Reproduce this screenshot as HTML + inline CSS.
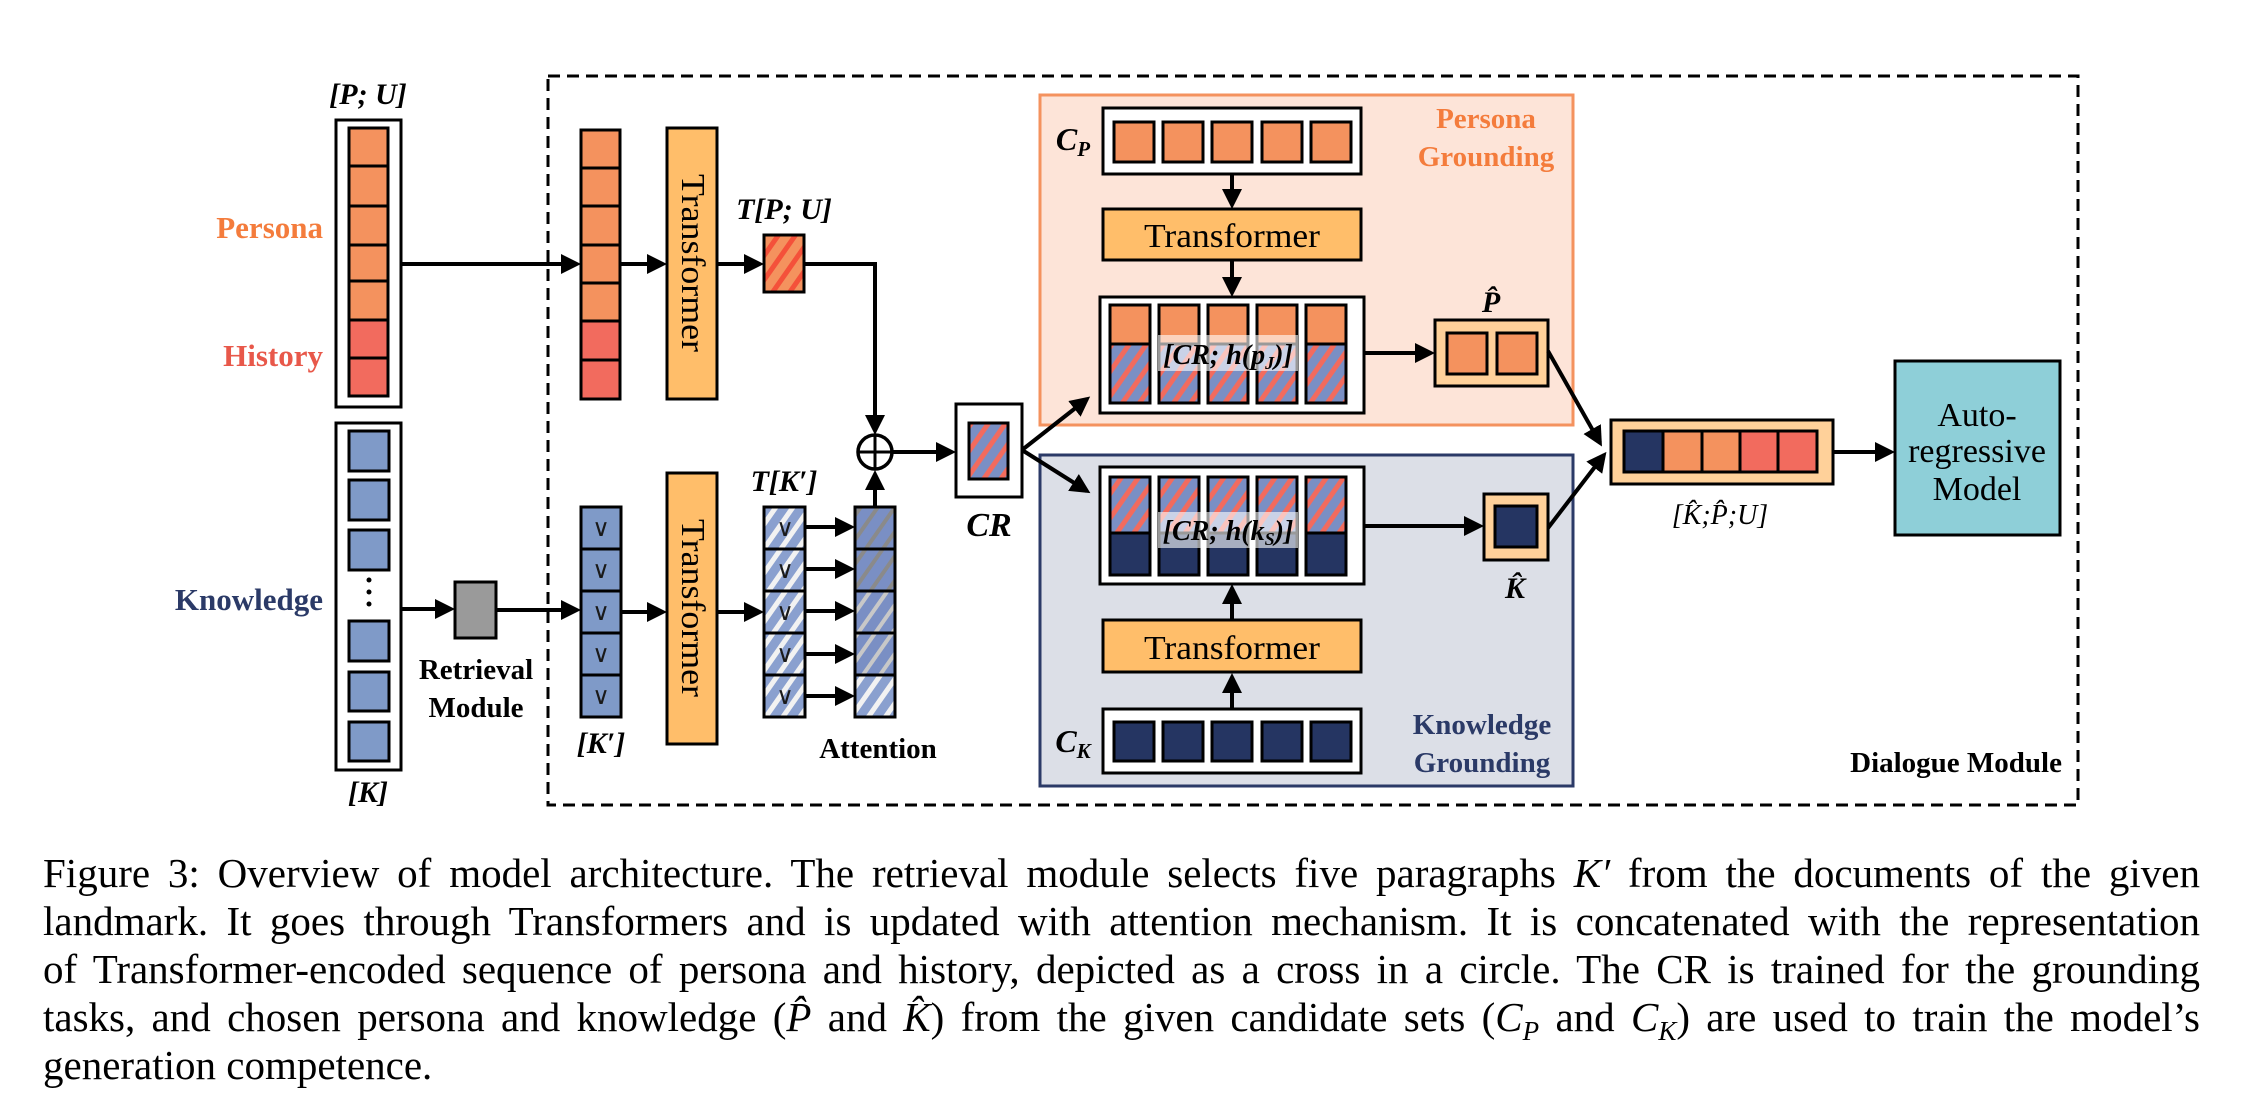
<!DOCTYPE html>
<html><head><meta charset="utf-8"><style>
html,body{margin:0;padding:0;background:#fff;}
body{width:2258px;height:1118px;position:relative;overflow:hidden;}
svg{position:absolute;left:0;top:0;}
.cap{position:absolute;left:43px;width:2157px;font-family:"Liberation Serif",serif;font-size:41px;line-height:48px;color:#000;white-space:nowrap;}
.j{text-align:justify;text-align-last:justify;}
</style></head><body>
<svg width="2258" height="1118" viewBox="0 0 2258 1118" xmlns="http://www.w3.org/2000/svg" font-family="Liberation Serif, serif">
<defs>
<marker id="ah" markerWidth="5" markerHeight="5" refX="4" refY="2.5" orient="auto" markerUnits="strokeWidth"><path d="M0,0 L5,2.5 L0,5 z" fill="#000"/></marker>
<pattern id="hOR" width="14" height="14" patternUnits="userSpaceOnUse" patternTransform="rotate(35)"><rect width="14" height="14" fill="#F4925E"/><rect width="5" height="14" fill="#F4513A"/></pattern>
<pattern id="hCR" width="14" height="14" patternUnits="userSpaceOnUse" patternTransform="rotate(35)"><rect width="14" height="14" fill="#7A8FC4"/><rect width="5" height="14" fill="#F26B5E"/></pattern>
<pattern id="hKW" width="14" height="14" patternUnits="userSpaceOnUse" patternTransform="rotate(35)"><rect width="14" height="14" fill="#8AA0CF"/><rect width="5" height="14" fill="#F2F2F2"/></pattern>
<pattern id="hKG" width="14" height="14" patternUnits="userSpaceOnUse" patternTransform="rotate(35)"><rect width="14" height="14" fill="#7A8FC4"/><rect width="4" height="14" fill="#8A8A8A"/></pattern>
<pattern id="hKL" width="14" height="14" patternUnits="userSpaceOnUse" patternTransform="rotate(35)"><rect width="14" height="14" fill="#7A8FC4"/><rect width="4" height="14" fill="#C8C8C8"/></pattern>
</defs>

<rect x="548" y="76" width="1530" height="729" fill="none" stroke="#000" stroke-width="3" stroke-dasharray="12,7"/>

<rect x="1040" y="95" width="533" height="330" fill="#FDE4D8" stroke="#F4925E" stroke-width="3"/>
<rect x="1040" y="455" width="533" height="331" fill="#DCDFE7" stroke="#2B3A67" stroke-width="3"/>

<g stroke="#000" stroke-width="3">
<rect x="336" y="120" width="65" height="287" fill="#fff"/>
<rect x="349" y="128" width="39" height="38" fill="#F4925E"/>
<rect x="349" y="166" width="39" height="40" fill="#F4925E"/>
<rect x="349" y="206" width="39" height="39" fill="#F4925E"/>
<rect x="349" y="245" width="39" height="36" fill="#F4925E"/>
<rect x="349" y="281" width="39" height="39" fill="#F4925E"/>
<rect x="349" y="320" width="39" height="38" fill="#F26B5E"/>
<rect x="349" y="358" width="39" height="38" fill="#F26B5E"/>
<rect x="336" y="423" width="65" height="347" fill="#fff"/>
<rect x="349" y="431" width="40" height="40" fill="#7F9AC8"/>
<rect x="349" y="480" width="40" height="40" fill="#7F9AC8"/>
<rect x="349" y="530" width="40" height="40" fill="#7F9AC8"/>
<rect x="349" y="621" width="40" height="40" fill="#7F9AC8"/>
<rect x="349" y="672" width="40" height="39" fill="#7F9AC8"/>
<rect x="349" y="722" width="40" height="39" fill="#7F9AC8"/>
<rect x="581" y="130" width="39" height="38" fill="#F4925E"/>
<rect x="581" y="168" width="39" height="38" fill="#F4925E"/>
<rect x="581" y="206" width="39" height="39" fill="#F4925E"/>
<rect x="581" y="245" width="39" height="38" fill="#F4925E"/>
<rect x="581" y="283" width="39" height="38" fill="#F4925E"/>
<rect x="581" y="321" width="39" height="39" fill="#F26B5E"/>
<rect x="581" y="360" width="39" height="39" fill="#F26B5E"/>
<rect x="667" y="128" width="50" height="271" fill="#FFBE6A"/>
<rect x="667" y="473" width="50" height="271" fill="#FFBE6A"/>
<rect x="764" y="235" width="40" height="57" fill="url(#hOR)"/>
<rect x="455" y="582" width="41" height="56" fill="#9A9A9A"/>
<rect x="581" y="507" width="40" height="42" fill="#7F9AC8"/>
<rect x="581" y="549" width="40" height="42" fill="#7F9AC8"/>
<rect x="581" y="591" width="40" height="42" fill="#7F9AC8"/>
<rect x="581" y="633" width="40" height="42" fill="#7F9AC8"/>
<rect x="581" y="675" width="40" height="42" fill="#7F9AC8"/>
<rect x="764" y="507" width="41" height="42" fill="url(#hKW)"/>
<rect x="764" y="549" width="41" height="42" fill="url(#hKW)"/>
<rect x="764" y="591" width="41" height="42" fill="url(#hKW)"/>
<rect x="764" y="633" width="41" height="42" fill="url(#hKW)"/>
<rect x="764" y="675" width="41" height="42" fill="url(#hKW)"/>
<rect x="855" y="507" width="40" height="42" fill="url(#hKG)"/>
<rect x="855" y="549" width="40" height="42" fill="url(#hKG)"/>
<rect x="855" y="591" width="40" height="42" fill="url(#hKL)"/>
<rect x="855" y="633" width="40" height="42" fill="url(#hKL)"/>
<rect x="855" y="675" width="40" height="42" fill="url(#hKW)"/>
<rect x="956" y="404" width="66" height="93" fill="#fff"/>
<rect x="969" y="423" width="39" height="56" fill="url(#hCR)"/>
<rect x="1103" y="108" width="258" height="66" fill="#fff"/>
<rect x="1114" y="122" width="40" height="40" fill="#F4925E"/>
<rect x="1163" y="122" width="40" height="40" fill="#F4925E"/>
<rect x="1212" y="122" width="40" height="40" fill="#F4925E"/>
<rect x="1262" y="122" width="40" height="40" fill="#F4925E"/>
<rect x="1311" y="122" width="40" height="40" fill="#F4925E"/>
<rect x="1103" y="209" width="258" height="51" fill="#FFBE6A"/>
<rect x="1100" y="297" width="264" height="116" fill="#fff"/>
<rect x="1110" y="305" width="40" height="39" fill="#F4925E"/><rect x="1110" y="344" width="40" height="59" fill="url(#hCR)"/>
<rect x="1159" y="305" width="40" height="39" fill="#F4925E"/><rect x="1159" y="344" width="40" height="59" fill="url(#hCR)"/>
<rect x="1208" y="305" width="40" height="39" fill="#F4925E"/><rect x="1208" y="344" width="40" height="59" fill="url(#hCR)"/>
<rect x="1257" y="305" width="40" height="39" fill="#F4925E"/><rect x="1257" y="344" width="40" height="59" fill="url(#hCR)"/>
<rect x="1306" y="305" width="40" height="39" fill="#F4925E"/><rect x="1306" y="344" width="40" height="59" fill="url(#hCR)"/>
<rect x="1435" y="320" width="113" height="66" fill="#FFD19A"/>
<rect x="1447" y="333" width="40" height="41" fill="#F4925E"/>
<rect x="1497" y="333" width="40" height="41" fill="#F4925E"/>
<rect x="1100" y="467" width="264" height="117" fill="#fff"/>
<rect x="1110" y="477" width="40" height="56" fill="url(#hCR)"/><rect x="1110" y="533" width="40" height="42" fill="#253562"/>
<rect x="1159" y="477" width="40" height="56" fill="url(#hCR)"/><rect x="1159" y="533" width="40" height="42" fill="#253562"/>
<rect x="1208" y="477" width="40" height="56" fill="url(#hCR)"/><rect x="1208" y="533" width="40" height="42" fill="#253562"/>
<rect x="1257" y="477" width="40" height="56" fill="url(#hCR)"/><rect x="1257" y="533" width="40" height="42" fill="#253562"/>
<rect x="1306" y="477" width="40" height="56" fill="url(#hCR)"/><rect x="1306" y="533" width="40" height="42" fill="#253562"/>
<rect x="1484" y="494" width="64" height="66" fill="#FFD19A"/>
<rect x="1495" y="506" width="42" height="41" fill="#253562"/>
<rect x="1103" y="620" width="258" height="52" fill="#FFBE6A"/>
<rect x="1103" y="709" width="258" height="64" fill="#fff"/>
<rect x="1114" y="722" width="40" height="39" fill="#253562"/>
<rect x="1163" y="722" width="40" height="39" fill="#253562"/>
<rect x="1212" y="722" width="40" height="39" fill="#253562"/>
<rect x="1262" y="722" width="40" height="39" fill="#253562"/>
<rect x="1311" y="722" width="40" height="39" fill="#253562"/>
<rect x="1611" y="420" width="222" height="64" fill="#FFD19A"/>
<rect x="1624" y="431" width="39" height="41" fill="#253562"/>
<rect x="1663" y="431" width="39" height="41" fill="#F4925E"/>
<rect x="1702" y="431" width="38" height="41" fill="#F4925E"/>
<rect x="1740" y="431" width="38" height="41" fill="#F26B5E"/>
<rect x="1778" y="431" width="39" height="41" fill="#F26B5E"/>
<rect x="1895" y="361" width="165" height="174" fill="#8ECFD8"/>
</g>

<rect x="1158" y="335" width="140" height="36" fill="#fff" fill-opacity="0.6"/>
<rect x="1158" y="512" width="140" height="36" fill="#fff" fill-opacity="0.6"/>

<g stroke="#000" stroke-width="4" fill="none" marker-end="url(#ah)">
<line x1="401" y1="264" x2="577" y2="264"/>
<line x1="620" y1="264" x2="663" y2="264"/>
<line x1="717" y1="264" x2="760" y2="264"/>
<polyline points="804,264 875,264 875,431"/>
<line x1="401" y1="609" x2="451" y2="609"/>
<line x1="496" y1="610" x2="577" y2="610"/>
<line x1="621" y1="612" x2="663" y2="612"/>
<line x1="717" y1="612" x2="760" y2="612"/>
<line x1="806" y1="527" x2="851" y2="527"/>
<line x1="806" y1="569" x2="851" y2="569"/>
<line x1="806" y1="611" x2="851" y2="611"/>
<line x1="806" y1="654" x2="851" y2="654"/>
<line x1="806" y1="696" x2="851" y2="696"/>
<line x1="875" y1="507" x2="875" y2="474"/>
<line x1="892" y1="452" x2="952" y2="452"/>
<line x1="1022" y1="450" x2="1087" y2="399"/>
<line x1="1022" y1="450" x2="1087" y2="491"/>
<line x1="1232" y1="174" x2="1232" y2="205"/>
<line x1="1232" y1="260" x2="1232" y2="293"/>
<line x1="1364" y1="353" x2="1431" y2="353"/>
<line x1="1364" y1="526" x2="1480" y2="526"/>
<line x1="1232" y1="620" x2="1232" y2="588"/>
<line x1="1232" y1="709" x2="1232" y2="677"/>
<line x1="1548" y1="351" x2="1600" y2="443"/>
<line x1="1548" y1="528" x2="1604" y2="455"/>
<line x1="1833" y1="452" x2="1891" y2="452"/>
</g>
<circle cx="875" cy="452" r="17" fill="#fff" stroke="#000" stroke-width="3.5"/>
<line x1="858" y1="452" x2="892" y2="452" stroke="#000" stroke-width="3"/>
<line x1="875" y1="435" x2="875" y2="469" stroke="#000" stroke-width="3"/>
<circle cx="369" cy="580" r="2.5"/><circle cx="369" cy="592" r="2.5"/><circle cx="369" cy="604" r="2.5"/>

<g font-weight="bold" font-size="31" text-anchor="end">
<text x="323" y="238" fill="#F47C3C">Persona</text>
<text x="323" y="366" fill="#E8584A">History</text>
<text x="323" y="610" fill="#2B3A67">Knowledge</text>
</g>
<g font-size="30" font-weight="bold" text-anchor="middle" font-style="italic">
<text x="368" y="104">[P; U]</text>
<text x="368" y="802">[K]</text>
<text x="601" y="753">[K′]</text>
<text x="784" y="219">T[P; U]</text>
<text x="784" y="491">T[K′]</text>
<text x="989" y="536" font-size="34">CR</text>
<text x="1491" y="312">P̂</text>
<text x="1515" y="598">K̂</text>
<text x="1073" y="150" font-size="32">C<tspan font-size="21" dy="6">P</tspan></text>
<text x="1073" y="752" font-size="32">C<tspan font-size="21" dy="6">K</tspan></text>
<text x="1228" y="364" font-size="28">[CR; h(p<tspan font-size="18" dy="5">J</tspan><tspan dy="-5">)]</tspan></text>
<text x="1228" y="540" font-size="28">[CR; h(k<tspan font-size="18" dy="5">S</tspan><tspan dy="-5">)]</tspan></text>
<text x="1720" y="524" font-weight="normal" font-size="28">[K̂;P̂;U]</text>
</g>
<g font-size="29" font-weight="bold" text-anchor="middle">
<text x="476" y="679">Retrieval</text>
<text x="476" y="717">Module</text>
<text x="878" y="758">Attention</text>
<text x="1486" y="128" fill="#F47C3C">Persona</text>
<text x="1486" y="166" fill="#F47C3C">Grounding</text>
<text x="1482" y="734" fill="#2B3A67">Knowledge</text>
<text x="1482" y="772" fill="#2B3A67">Grounding</text>
<text x="2062" y="772" text-anchor="end">Dialogue Module</text>
</g>
<g font-size="34" text-anchor="middle">
<text transform="translate(682,263) rotate(90)" textLength="178" lengthAdjust="spacingAndGlyphs">Transformer</text>
<text transform="translate(682,608) rotate(90)" textLength="178" lengthAdjust="spacingAndGlyphs">Transformer</text>
<text x="1232" y="247" textLength="176" lengthAdjust="spacingAndGlyphs">Transformer</text>
<text x="1232" y="659" textLength="176" lengthAdjust="spacingAndGlyphs">Transformer</text>
<text x="1977" y="426">Auto-</text>
<text x="1977" y="462">regressive</text>
<text x="1977" y="500">Model</text>
</g>
<g font-size="24" text-anchor="middle" fill="#1a1a1a">
<text x="601" y="536">∨</text><text x="601" y="578">∨</text><text x="601" y="620">∨</text><text x="601" y="662">∨</text><text x="601" y="704">∨</text>
<text x="785" y="536">∨</text><text x="785" y="578">∨</text><text x="785" y="620">∨</text><text x="785" y="662">∨</text><text x="785" y="704">∨</text>
</g>
</svg>
<div class="cap j" style="top:849px">Figure 3: Overview of model architecture. The retrieval module selects five paragraphs <i>K′</i> from the documents of the given</div>
<div class="cap j" style="top:897px">landmark. It goes through Transformers and is updated with attention mechanism. It is concatenated with the representation</div>
<div class="cap j" style="top:945px">of Transformer-encoded sequence of persona and history, depicted as a cross in a circle. The CR is trained for the grounding</div>
<div class="cap j" style="top:993px">tasks, and chosen persona and knowledge (<i>P̂</i> and <i>K̂</i>) from the given candidate sets (<i>C<sub style="font-size:27px">P</sub></i> and <i>C<sub style="font-size:27px">K</sub></i>) are used to train the model’s</div>
<div class="cap" style="top:1041px">generation competence.</div>
</body></html>
